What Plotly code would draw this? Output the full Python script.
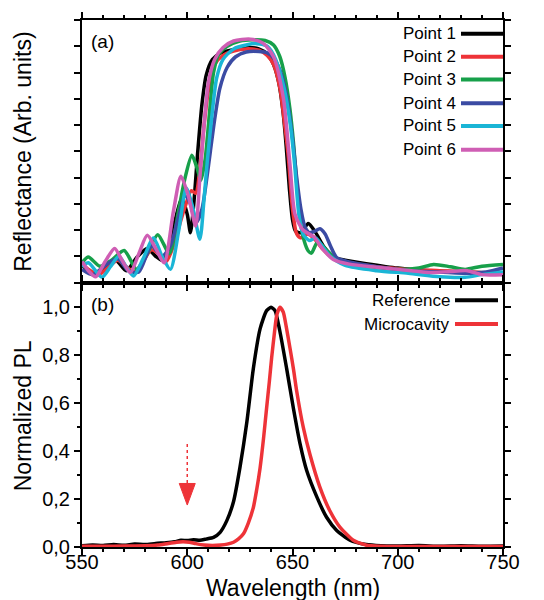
import plotly.graph_objects as go

# ---- (a) reflectance spectra, arbitrary units (0..10 frame) ----
wl1 = [550, 553, 557, 561, 566, 571, 576, 581, 585, 588, 591, 594, 597.5, 600, 601.5, 603, 605, 607, 609, 612, 616, 622, 629, 634, 638, 641, 643.5, 645.5, 647, 648.5, 650, 651.5, 654, 657.5, 661, 665, 670, 675, 685, 700, 715, 730, 750]
r1 = [0.65, 0.45, 0.3, 0.55, 0.85, 0.45, 0.95, 1.3, 1.0, 0.85, 1.2, 2.3, 3.2, 2.6, 1.9, 2.9, 5.0, 6.8, 7.9, 8.5, 8.75, 8.87, 8.95, 8.9, 8.7, 8.3, 7.6, 6.5, 5.2, 3.6, 2.4, 1.95, 1.9, 2.25, 1.9, 1.35, 0.95, 0.85, 0.72, 0.55, 0.45, 0.4, 0.35]

wl2 = [550, 553, 558, 562, 567, 571, 575, 579, 583, 587, 590, 593, 596, 599, 602, 604, 606, 608, 610, 613, 617, 622, 628, 634, 638, 641, 644, 646, 648, 650, 652, 654, 657, 660, 664, 668, 675, 690, 705, 720, 735, 750]
r2 = [0.7, 0.5, 0.3, 0.55, 0.85, 0.6, 0.4, 0.8, 1.25, 1.05, 0.8, 1.3, 2.1, 2.9, 3.5, 3.4, 4.3, 6.0, 7.3, 8.3, 8.65, 8.82, 8.9, 8.85, 8.65, 8.3, 7.4, 6.2, 4.8, 2.8, 1.85, 1.7, 1.85, 1.7, 1.3, 1.0, 0.78, 0.6, 0.5, 0.45, 0.4, 0.3]

wl3 = [550, 553, 558.5, 564, 570, 576, 581, 586, 591.5, 596, 599, 602.2, 604.5, 606.5, 608.5, 610.5, 612.5, 615, 619, 625, 631, 637, 641, 644, 646.5, 648.8, 650.5, 652, 653.6, 655.5, 657.5, 659, 662, 666, 672, 685, 701, 710, 717, 725, 732, 740, 750]
r3 = [0.75, 0.97, 0.62, 0.85, 1.22, 0.5, 1.1, 1.82, 1.1, 2.8, 4.0, 4.85, 4.4, 3.9, 4.7, 6.4, 8.0, 8.7, 9.0, 9.2, 9.25, 9.22, 9.05, 8.6, 7.8, 6.6, 5.3, 3.8, 2.4, 1.6, 1.2, 1.12, 1.55, 1.25, 0.8, 0.62, 0.5, 0.55, 0.69, 0.6, 0.5, 0.62, 0.69]

wl4 = [550, 555, 561, 567, 572, 577, 583, 588, 592, 595.5, 599, 602, 604.5, 607, 609, 611, 613, 615.5, 619, 623, 628, 634, 638, 641, 644, 647, 650, 652, 654, 656, 658, 660.5, 663, 665.5, 668, 671, 676, 690, 705, 720, 735, 742, 750]
r4 = [0.5, 0.3, 0.65, 0.9, 0.45, 0.4, 1.4, 1.0, 1.4, 2.4, 3.3, 2.9, 2.3, 2.8, 3.8, 5.0, 6.2, 7.4, 8.2, 8.6, 8.78, 8.8, 8.75, 8.55, 8.1, 7.2, 5.5, 4.0, 2.8, 2.1, 1.9, 1.95, 2.05, 1.85, 1.4, 0.95, 0.8, 0.6, 0.45, 0.4, 0.35, 0.4, 0.55]

wl5 = [550, 553, 559.5, 563.5, 567.5, 571, 574.5, 579, 584, 588, 592, 596, 599.5, 602.5, 606, 608, 609.5, 611.5, 614, 617, 622, 628, 633, 638, 642, 646, 649, 651, 653, 655, 658, 661, 664, 668, 675, 690, 705, 720, 732, 740, 750]
r5 = [0.6, 0.75, 0.2, 0.6, 1.0, 0.6, 0.25, 0.9, 1.7, 1.0, 0.5, 2.0, 3.6, 2.9, 1.65, 3.2, 4.6, 6.2, 7.8, 8.5, 8.9, 9.05, 9.1, 9.0, 8.5, 7.4, 6.0, 4.5, 2.6, 1.85, 1.6, 1.7, 1.4, 1.0, 0.65, 0.45, 0.35, 0.22, 0.2, 0.3, 0.4]

wl6 = [550, 553, 556.5, 561, 565.5, 569, 573, 577, 581, 585, 589, 593.5, 597, 600.5, 604, 606, 608, 610, 613, 617, 622, 630, 636, 641, 645.7, 648.8, 651.2, 655, 660, 664.6, 669.4, 677, 690, 700, 710, 717, 725, 733, 740, 750]
r6 = [0.8, 0.45, 0.22, 0.8, 1.3, 0.85, 0.38, 1.1, 1.8, 1.3, 0.75, 2.75, 4.05, 3.3, 2.15, 4.0, 6.0, 7.6, 8.5, 8.95, 9.2, 9.27, 9.12, 8.6, 7.0, 4.5, 2.6, 2.0, 1.75, 1.25, 0.88, 0.7, 0.58, 0.5, 0.42, 0.38, 0.42, 0.45, 0.3, 0.3]

point_names = ['Point 1', 'Point 2', 'Point 3', 'Point 4', 'Point 5', 'Point 6']
point_colors = ['#000000', '#ee3338', '#17a04a', '#3b4ba3', '#1ab5d6', '#cf5eb4']

# ---- (b) normalized PL ----
wl_ref = [550, 555, 560, 565, 570, 575, 580, 585, 590, 594, 597, 600, 603, 606, 609, 612.5, 615.5, 618.8, 622, 625, 628.3, 631.4, 634.6, 637.7, 639.8, 641.7, 644, 647.2, 650.4, 653.6, 656.7, 661.5, 666.2, 671, 677.3, 685, 692, 700, 710, 720, 730, 740, 750]
pl_ref = [0.005, 0.008, 0.006, 0.01, 0.007, 0.012, 0.01, 0.015, 0.018, 0.022, 0.028, 0.027, 0.03, 0.028, 0.033, 0.04, 0.06, 0.11, 0.19, 0.33, 0.52, 0.745, 0.91, 0.986, 1.0, 0.986, 0.9, 0.745, 0.58, 0.43, 0.32, 0.21, 0.124, 0.069, 0.028, 0.01, 0.005, 0.004, 0.006, 0.003, 0.005, 0.003, 0.004]

wl_mc = [550, 560, 570, 580, 586, 591, 595, 598, 601, 604, 608, 612, 616, 619, 622, 624.5, 626.7, 629, 631.4, 633, 634.6, 636.2, 637.7, 639, 640.1, 641.5, 642.5, 644, 645.6, 647, 648.8, 650.5, 652, 655.1, 658.3, 663, 667.8, 672.5, 678.9, 685.2, 692, 700, 720, 750]
pl_mc = [0.003, 0.003, 0.004, 0.005, 0.008, 0.015, 0.02, 0.022, 0.02, 0.014, 0.008, 0.006, 0.008, 0.012, 0.02, 0.035, 0.055, 0.1, 0.165, 0.24, 0.33, 0.45, 0.58, 0.69, 0.79, 0.9, 0.966, 1.0, 0.98, 0.92, 0.83, 0.74, 0.65, 0.5, 0.386, 0.25, 0.15, 0.083, 0.028, 0.007, 0.003, 0.002, 0.002, 0.002]

pl_names = ['Reference', 'Microcavity']
pl_colors = ['#000000', '#ee3338']

# arrow pointing to the weak 600 nm feature
arrow_wl = 600
arrow_top, arrow_mid, arrow_tip = 0.43, 0.265, 0.175

FONT = 'Liberation Sans, Arial, sans-serif'
W, H = 544, 600
L, R, T, B = 82, 41, 15, 53
split = 280  # pixel row where the two panels meet


def px_x(p):
    return (p - L) / (W - L - R)


def px_y(p):
    return (H - B - p) / (H - T - B)


fig = go.Figure()

refl = [(wl1, r1), (wl2, r2), (wl3, r3), (wl4, r4), (wl5, r5), (wl6, r6)]
for (wl, rr), name, col in zip(refl, point_names, point_colors):
    fig.add_trace(go.Scatter(x=wl, y=rr, mode='lines', name=name, xaxis='x', yaxis='y',
                             line=dict(color=col, width=3.5, shape='spline', smoothing=0.7)))

for (wl, pl), name, col in zip([(wl_ref, pl_ref), (wl_mc, pl_mc)], pl_names, pl_colors):
    fig.add_trace(go.Scatter(x=wl, y=pl, mode='lines', name=name, xaxis='x2', yaxis='y2',
                             line=dict(color=col, width=3.5, shape='spline', smoothing=0.6)))

ax = dict(showline=True, linecolor='black', linewidth=2, mirror='ticks', ticks='outside',
          ticklen=6, tickwidth=2, tickcolor='black', showgrid=False, zeroline=False,
          tickfont=dict(family=FONT, size=20, color='black'))
xminor = dict(ticks='outside', ticklen=3, tickwidth=1.5, tickcolor='black', dtick=10, showgrid=False)

d = px_y(split)
fig.update_layout(
    width=W, height=H, margin=dict(l=L, r=R, t=T, b=B),
    plot_bgcolor='white', paper_bgcolor='white', showlegend=False,
    separators=',.', font=dict(family=FONT, color='black'),
    xaxis=dict(ax, range=[550, 750], dtick=50, showticklabels=False, anchor='y', minor=xminor),
    yaxis=dict(ax, range=[0, 10], dtick=1, showticklabels=False, domain=[d, 1], anchor='x'),
    xaxis2=dict(ax, range=[550, 750], dtick=50, anchor='y2', minor=xminor, ticklabelstandoff=-10),
    yaxis2=dict(ax, range=[0, (H - B - split) / ((H - B - 305))], dtick=0.2, tickformat='.1f',
                domain=[0, d], anchor='x2',
                minor=dict(ticks='outside', ticklen=3, tickwidth=1.5, tickcolor='black', dtick=0.1)),
)

ann = []
shapes = []
# legend of panel (a): text right-aligned, sample line on the right
rows_a = [29, 52, 75, 99, 122, 146]
for name, col, py in zip(point_names, point_colors, rows_a):
    ann.append(dict(x=px_x(458), y=px_y(py), xref='paper', yref='paper', text=name, showarrow=False,
                    xanchor='right', yanchor='middle', font=dict(family=FONT, size=17, color='black')))
    shapes.append(dict(type='line', xref='paper', yref='paper', x0=px_x(461), x1=px_x(503),
                       y0=px_y(py), y1=px_y(py), line=dict(color=col, width=4)))
rows_b = [298, 322]
for name, col, py in zip(pl_names, pl_colors, rows_b):
    ann.append(dict(x=px_x(452), y=px_y(py), xref='paper', yref='paper', text=name, showarrow=False,
                    xanchor='right', yanchor='middle', font=dict(family=FONT, size=17, color='black')))
    shapes.append(dict(type='line', xref='paper', yref='paper', x0=px_x(455), x1=px_x(498),
                       y0=px_y(py), y1=px_y(py), line=dict(color=col, width=4)))

# panel labels
ann.append(dict(x=px_x(89), y=px_y(37), xref='paper', yref='paper', text='(a)', showarrow=False,
                xanchor='left', yanchor='middle', font=dict(family=FONT, size=19, color='black')))
ann.append(dict(x=px_x(89), y=px_y(302), xref='paper', yref='paper', text='(b)', showarrow=False,
                xanchor='left', yanchor='middle', font=dict(family=FONT, size=19, color='black')))

# axis titles
ann.append(dict(x=px_x(23), y=px_y(148), xref='paper', yref='paper', text='Reflectance (Arb. units)',
                textangle=-90, showarrow=False, xanchor='center', yanchor='middle',
                font=dict(family=FONT, size=23, color='black')))
ann.append(dict(x=px_x(23), y=px_y(415), xref='paper', yref='paper', text='Normalized PL',
                textangle=-90, showarrow=False, xanchor='center', yanchor='middle',
                font=dict(family=FONT, size=23, color='black')))
ann.append(dict(x=0.5, y=px_y(588), xref='paper', yref='paper', text='Wavelength (nm)',
                showarrow=False, xanchor='center', yanchor='middle',
                font=dict(family=FONT, size=23, color='black')))

# dotted red arrow in panel (b)
shapes.append(dict(type='line', xref='x2', yref='y2', x0=arrow_wl, x1=arrow_wl, y0=arrow_top, y1=arrow_mid,
                   line=dict(color='#ee3338', width=1.5, dash='dot')))
shapes.append(dict(type='path', xref='x2', yref='y2',
                   path=f'M {arrow_wl - 3.8},{arrow_mid} L {arrow_wl + 3.8},{arrow_mid} L {arrow_wl},{arrow_tip} Z',
                   fillcolor='#ee3338', line=dict(color='#ee3338', width=1)))

fig.update_layout(annotations=ann, shapes=shapes)
# drop the browser's default body margin so the figure sits at the page origin
fig.write_html('out.html', config={'displayModeBar': False},
               post_script="document.body.style.margin='0';")
